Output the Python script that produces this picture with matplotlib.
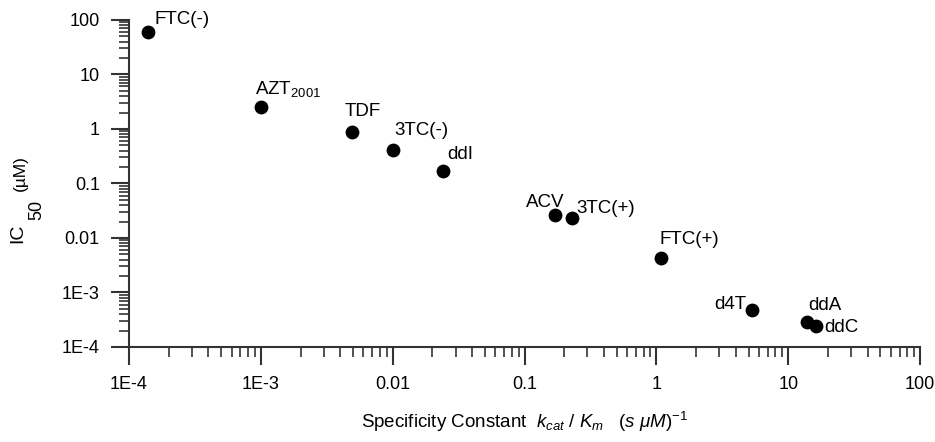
#
# IC50 versus specificity constant (log-log scatter)
#

import matplotlib
matplotlib.use("Agg")
import matplotlib.pyplot as plt
from matplotlib.ticker import LogLocator, NullFormatter

plt.rcParams["font.family"] = ["Liberation Sans", "DejaVu Sans"]
plt.rcParams["mathtext.fontset"] = "custom"
plt.rcParams["mathtext.rm"] = "Liberation Sans"
plt.rcParams["mathtext.it"] = "Liberation Sans:italic"
plt.rcParams["mathtext.default"] = "regular"

# Data
drugs = ["FTC(-)", "AZT$_{2001}$", "TDF", "3TC(-)", "ddI", "ACV", "3TC(+)",
         "FTC(+)", "d4T", "ddA", "ddC"]
kcat_km = [1.39e-4, 1.0e-3, 4.9e-3, 0.0101, 0.024, 0.17, 0.23, 1.09, 5.3, 13.9, 16.3]
ic50 = [60, 2.5, 0.88, 0.41, 0.17, 0.0264, 0.0233, 0.0043, 4.8e-4, 2.9e-4, 2.4e-4]

# Label offsets (points) and alignment for each drug
offsets = [(5, 9), (-4, 13), (-5, 15), (1, 14), (3, 12), (7, 9), (3, 7),
           (-1, 13), (-4, 4), (1, 12), (6, -1)]
aligns = ["left", "left", "left", "left", "left", "right", "left",
          "left", "right", "left", "left"]

ticks = [1e-4, 1e-3, 1e-2, 1e-1, 1, 10, 100]
tick_labels = ["1E-4", "1E-3", "0.01", "0.1", "1", "10", "100"]

ink = "#333333"

fig = plt.figure(figsize=(9.35, 4.42), dpi=100)
ax = fig.add_axes([0.138, 0.215, 0.846, 0.74])

ax.scatter(kcat_km, ic50, s=80, color="black", zorder=3, clip_on=False)
for name, x, y, off, ha in zip(drugs, kcat_km, ic50, offsets, aligns):
    ax.annotate(name, (x, y), xytext=off, textcoords="offset points",
                ha=ha, va="center", fontsize=13.5, color="black")

ax.set_xscale("log")
ax.set_yscale("log")
ax.set_xlim(1e-4, 100)
ax.set_ylim(1e-4, 100)
ax.set_xticks(ticks, tick_labels)
ax.set_yticks(ticks, tick_labels)
for axis in (ax.xaxis, ax.yaxis):
    axis.set_minor_locator(LogLocator(base=10, subs=range(2, 10), numticks=20))
    axis.set_minor_formatter(NullFormatter())

for side in ("top", "right"):
    ax.spines[side].set_visible(False)
for side in ("left", "bottom"):
    ax.spines[side].set_color(ink)
    ax.spines[side].set_linewidth(1.5)

ax.tick_params(which="major", direction="out", length=13, width=1.5,
               color=ink, labelsize=13, pad=8)
ax.tick_params(which="minor", direction="out", length=7, width=1.2, color=ink)

ax.set_xlabel(r"Specificity Constant  $\mathit{k_{cat}\ /\ K_{m}}\quad\mathit{(s\ \mu M)^{-1}}$",
              fontsize=13.5, labelpad=12)

# y label built from pieces: IC, a full size subscript 50, and a smaller raised (uM)
px = lambda x, y: (x / 935, 1 - y / 442)
fig.text(*px(18, 233), "IC", rotation=90, fontsize=14, ha="center", va="center")
fig.text(*px(37, 210), "50", rotation=90, fontsize=13, ha="center", va="center")
fig.text(*px(20, 173), "(\u00b5M)", rotation=90, fontsize=12.5, ha="center", va="center")

fig.savefig("out.png", dpi=100)
